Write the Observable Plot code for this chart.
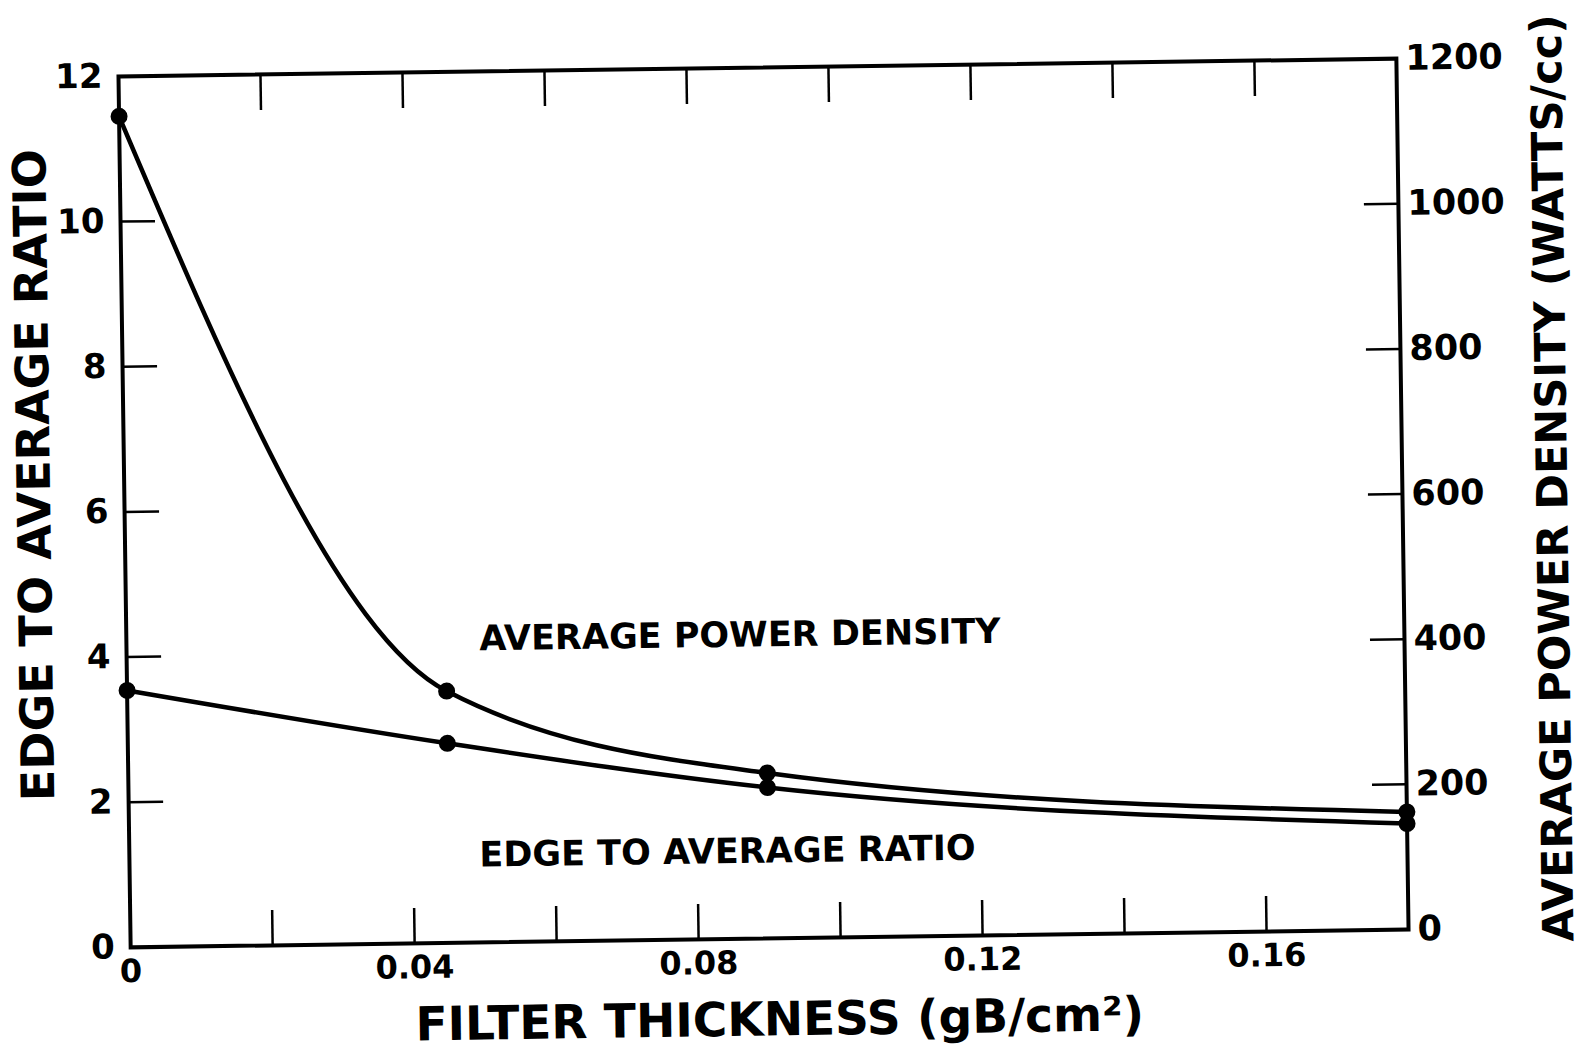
<!DOCTYPE html>
<html><head><meta charset="utf-8">
<script src="https://cdn.jsdelivr.net/npm/d3@7"></script>
<script src="https://cdn.jsdelivr.net/npm/@observablehq/plot@0.6"></script>
<style>
html,body{margin:0;padding:0;background:#fff;}
#chart svg{display:block;transform:rotate(-0.8deg);transform-origin:763px 502px;}
</style></head><body><div id="chart"></div>
<script>
// Data
const filterThickness = [0, 0.045, 0.09, 0.18];      // gB/cm^2
const powerDensity   = [1145, 347, 228, 162];         // watts/cc (right axis)
const edgeRatio      = [3.54, 2.75, 2.08, 1.46];      // left axis

// Axis ticks
const xTickLabels  = [0, 0.04, 0.08, 0.12, 0.16];
const xMinorTicks  = [0.02, 0.04, 0.06, 0.08, 0.10, 0.12, 0.14, 0.16];
const yLeftTicks   = [0, 2, 4, 6, 8, 10, 12];
const yLeftInner   = [2, 4, 6, 8, 10];
const yRightTicks  = [0, 200, 400, 600, 800, 1000, 1200];
const yRightInner  = [200, 400, 600, 800, 1000];

// Text
const xTitle = "FILTER THICKNESS (gB/cm²)";
const yLeftTitle = "EDGE TO AVERAGE RATIO";
const yRightTitle = "AVERAGE POWER DENSITY (WATTS/cc)";
const curveLabels = ["AVERAGE POWER DENSITY", "EDGE TO AVERAGE RATIO"];

const POWER_PER_RATIO = 100; // right axis 1200 <-> left axis 12

const rows = filterThickness.map((t, i) => ({t, power: powerDensity[i], edge: edgeRatio[i]}));

const font = "'DejaVu Sans', Verdana, sans-serif";
const TICK = 35;

const chart = Plot.plot({
  width: 1591,
  height: 1050,
  marginLeft: 124,
  marginRight: 189,
  marginTop: 67,
  marginBottom: 112,
  style: {fontFamily: font, fontWeight: "bold", background: "white", color: "black"},
  x: {domain: [0, 0.18], label: null, axis: null},
  y: {domain: [0, 12], label: null, axis: null},
  marks: [
    // inward ticks
    Plot.axisX({ticks: xMinorTicks, anchor: "bottom", tickSize: TICK, dy: -TICK, tickFormat: () => "", label: null, strokeWidth: 2.5}),
    Plot.axisX({ticks: xMinorTicks, anchor: "top", tickSize: TICK, dy: TICK, tickFormat: () => "", label: null, strokeWidth: 2.5}),
    Plot.axisY({ticks: yLeftInner, anchor: "left", tickSize: TICK, dx: TICK, tickFormat: () => "", label: null, strokeWidth: 2.5}),
    Plot.axisY({ticks: yRightInner.map(v => v / POWER_PER_RATIO), anchor: "right", tickSize: TICK, dx: -TICK, tickFormat: () => "", label: null, strokeWidth: 2.5}),
    // tick labels
    Plot.axisX({ticks: xTickLabels, anchor: "bottom", tickSize: 0, tickPadding: 12, fontSize: 32,
      tickFormat: d => d === 0 ? "0" : d.toFixed(2), label: null}),
    Plot.axisY({ticks: yLeftTicks, anchor: "left", tickSize: 0, tickPadding: 16, fontSize: 34, label: null}),
    Plot.axisY({ticks: yRightTicks.map(v => v / POWER_PER_RATIO), anchor: "right", tickSize: 0, tickPadding: 9, fontSize: 35,
      tickFormat: d => String(Math.round(d * POWER_PER_RATIO)), label: null}),
    Plot.frame({stroke: "black", strokeWidth: 4}),
    // curves
    Plot.line(rows, {x: "t", y: d => d.power / POWER_PER_RATIO, curve: "monotone-x", stroke: "black", strokeWidth: 4.5}),
    Plot.line(rows, {x: "t", y: "edge", curve: "monotone-x", stroke: "black", strokeWidth: 4.5}),
    Plot.dot(rows, {x: "t", y: d => d.power / POWER_PER_RATIO, r: 8.5, fill: "black"}),
    Plot.dot(rows, {x: "t", y: "edge", r: 8.5, fill: "black"}),
    // curve labels
    Plot.text([curveLabels[0]], {x: 0.0497, y: 4.18, textAnchor: "start", lineAnchor: "middle", fontSize: 35}),
    Plot.text([curveLabels[1]], {x: 0.0493, y: 1.20, textAnchor: "start", lineAnchor: "middle", fontSize: 35}),
    // axis titles
    Plot.text([yLeftTitle], {frameAnchor: "left", textAnchor: "middle", lineAnchor: "middle", rotate: -90, dx: -89, dy: -38, fontSize: 46}),
    Plot.text([yRightTitle], {frameAnchor: "right", textAnchor: "middle", lineAnchor: "middle", rotate: -90, dx: 151, dy: -14, fontSize: 43}),
    Plot.text([xTitle], {frameAnchor: "bottom", textAnchor: "middle", lineAnchor: "middle", dx: 9, dy: 82, fontSize: 47})
  ]
});
document.getElementById("chart").appendChild(chart);
</script></body></html>
